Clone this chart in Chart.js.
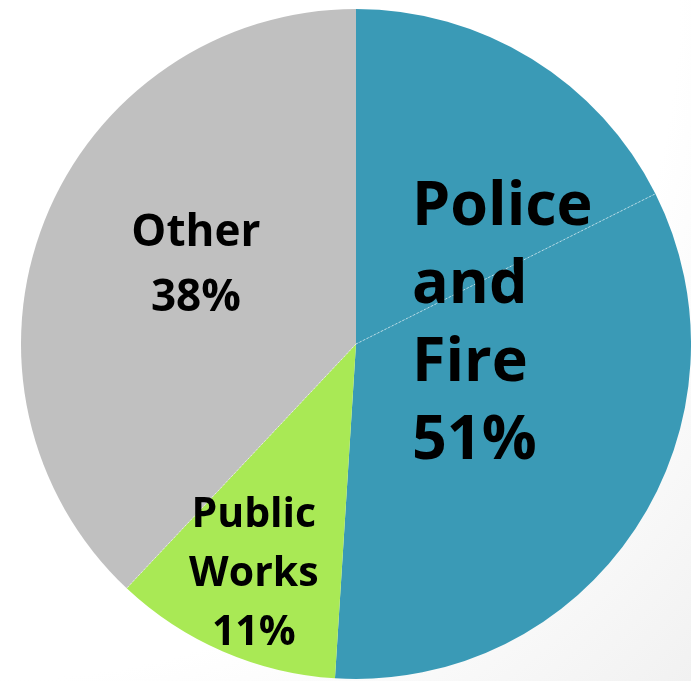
<!DOCTYPE html>
<html>
<head>
<meta charset="utf-8">
<script src="https://cdn.jsdelivr.net/npm/chart.js@4/dist/chart.umd.min.js"></script>
<style>
  html, body { margin: 0; padding: 0; }
  body {
    width: 691px; height: 681px; overflow: hidden;
    background: radial-gradient(circle at 0% 0%, #ffffff 70%, #f1f1f1 100%);
  }
  #wrap { position: relative; width: 691px; height: 681px; }
</style>
</head>
<body>
<div id="wrap"><canvas id="pie" width="691" height="681"></canvas></div>
<script>
// slices clockwise from 12 o'clock; police and fire share one colour
const categories = ["Police", "Fire", "Public Works", "Other"];
const shares = [17.6, 33.4, 11, 38];
const sliceColors = ["#3a9ab6", "#3a9ab6", "#a9e955", "#c0c0c0"];

const policeFireLabel = ["Police", "and", "Fire", "51%"];
const publicWorksLabel = ["Public", "Works", "11%"];
const otherLabel = ["Other", "38%"];

// where the text blocks sit, in units of the pie radius from its centre
const labelBlocks = [
  { lines: policeFireLabel, dx: 0.167, dy: -0.408, size: 61, lh: 78, align: "left" },
  { lines: otherLabel, dx: -0.478, dy: -0.33, size: 44, lh: 65, align: "center" },
  { lines: publicWorksLabel, dx: -0.305, dy: 0.51, size: 41, lh: 59, align: "center" }
];

// thin dotted separators only between these slice pairs (index of the slice that starts there)
const dottedEdges = [1, 3];

const pieLabels = {
  id: "pieLabels",
  afterDatasetsDraw(chart) {
    const ctx = chart.ctx;
    const arcs = chart.getDatasetMeta(0).data;
    const cx = arcs[0].x, cy = arcs[0].y, r = arcs[0].outerRadius;

    ctx.save();
    ctx.strokeStyle = "rgba(255,255,255,0.55)";
    ctx.lineWidth = 1;
    ctx.setLineDash([2, 2]);
    dottedEdges.forEach(i => {
      const a = arcs[i].startAngle;
      ctx.beginPath();
      ctx.moveTo(cx, cy);
      ctx.lineTo(cx + r * Math.cos(a), cy + r * Math.sin(a));
      ctx.stroke();
    });
    ctx.restore();

    ctx.save();
    ctx.fillStyle = "#000";
    ctx.textBaseline = "middle";
    labelBlocks.forEach(b => {
      ctx.font = "bold " + b.size + "px 'Open Sans', sans-serif";
      ctx.textAlign = b.align;
      b.lines.forEach((t, k) => {
        ctx.fillText(t, cx + b.dx * r, cy + b.dy * r + k * b.lh);
      });
    });
    ctx.restore();
  }
};

new Chart(document.getElementById("pie"), {
  type: "pie",
  data: {
    labels: categories,
    datasets: [{
      data: shares,
      backgroundColor: sliceColors,
      borderWidth: 0
    }]
  },
  options: {
    responsive: false,
    animation: false,
    layout: { padding: { left: 21, top: 9, right: 0, bottom: 2 } },
    plugins: {
      legend: { display: false },
      tooltip: { enabled: false }
    }
  },
  plugins: [pieLabels]
});
</script>
</body>
</html>
